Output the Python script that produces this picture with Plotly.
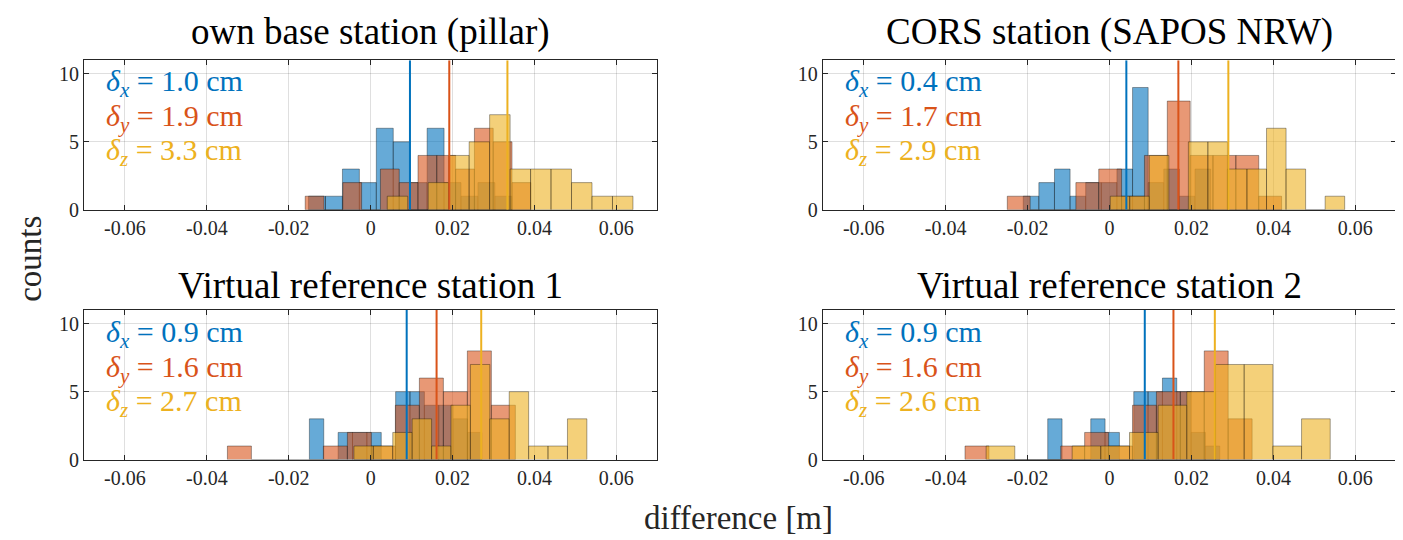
import plotly.graph_objects as go

# ---------------- data ----------------
titles = ["own base station (pillar)", "CORS station (SAPOS NRW)",
          "Virtual reference station 1", "Virtual reference station 2"]

# histogram bins per panel: first bin edge [m], bin width [m], counts
x_start = [-0.01516, -0.02107, -0.01496, -0.01509]
x_width = [0.004136, 0.003812, 0.00351, 0.0035]
x_counts = [[1, 1, 3, 2, 6, 5, 2, 6, 2, 1, 2, 1],
            [1, 2, 3, 1, 2, 2, 3, 9, 2, 3, 1, 3],
            [3, 0, 2, 2, 2, 0, 5, 5, 4, 4, 3, 2],
            [3, 0, 0, 3, 2, 0, 5, 5, 6, 5, 2, 1]]

y_start = [-0.01598, -0.02496, -0.03498, -0.03528]
y_width = [0.004591, 0.00558, 0.00586, 0.00584]
y_counts = [[1, 0, 2, 0, 3, 2, 4, 4, 3, 6, 5, 2],
            [1, 0, 0, 2, 3, 1, 4, 8, 4, 4, 4, 1],
            [1, 0, 0, 0, 1, 2, 1, 4, 6, 5, 8, 4],
            [1, 0, 0, 0, 1, 2, 1, 4, 5, 5, 8, 3]]

z_start = [0.004055, 0.00017, -0.00408, -0.03013]
z_width = [0.005, 0.004769, 0.00474, 0.0070]
z_counts = [[1, 0, 2, 4, 5, 7, 3, 3, 3, 2, 1, 1],
            [1, 1, 4, 0, 5, 5, 3, 3, 6, 3, 0, 1],
            [1, 1, 2, 3, 1, 4, 7, 3, 5, 1, 1, 3],
            [1, 0, 0, 1, 1, 2, 4, 5, 7, 7, 1, 3]]

# mean offsets [cm]
delta_x = [0.96, 0.41, 0.88, 0.86]
delta_y = [1.92, 1.68, 1.61, 1.56]
delta_z = [3.34, 2.90, 2.70, 2.57]

x_tickvals = [-0.06, -0.04, -0.02, 0, 0.02, 0.04, 0.06]
x_ticktext = ["-0.06", "-0.04", "-0.02", "0", "0.02", "0.04", "0.06"]
y_tickvals = [0, 5, 10]

# ---------------- styling ----------------
PAGE_W, PAGE_H = 1403, 540
OFF_X = 8  # horizontal page offset of the figure
W, H = PAGE_W - OFF_X, PAGE_H
FONT = "Liberation Serif"
AXC = "#262626"
COLORS = ["#0072BD", "#D95319", "#EDB120"]
FILLS = ["rgba(0,114,189,0.6)", "rgba(217,83,25,0.6)", "rgba(237,177,32,0.6)"]
EDGE = "rgba(0,0,0,0.35)"


def px(x):
    return min(1.0, max(0.0, (x - OFF_X) / W))


def py(y):
    return min(1.0, max(0.0, 1 - y / H))


x_domains = [[px(84), px(657.3)], [px(822.8), px(1396.3)]] * 2
y_domains = [[py(206), py(53.4)]] * 2 + [[py(461), py(308.4)]] * 2

fig = go.Figure()
series = [(x_start, x_width, x_counts), (y_start, y_width, y_counts),
          (z_start, z_width, z_counts)]
deltas = [delta_x, delta_y, delta_z]
subs = ["x", "y", "z"]

for p in range(4):
    xa = "x" if p == 0 else f"x{p + 1}"
    ya = "y" if p == 0 else f"y{p + 1}"
    for s, (st, wd, ct) in enumerate(series):
        counts = ct[p]
        centers = [st[p] + wd[p] * (k + 0.5) for k in range(len(counts))]
        fig.add_trace(go.Bar(
            x=centers, y=counts, width=[wd[p]] * len(counts),
            marker=dict(color=FILLS[s], line=dict(color=EDGE, width=1)),
            xaxis=xa, yaxis=ya, showlegend=False, hoverinfo="skip"))
    for s in range(3):
        d = deltas[s][p] / 100.0
        fig.add_trace(go.Scatter(
            x=[d, d], y=[0, 11], mode="lines",
            line=dict(color=COLORS[s], width=2),
            xaxis=xa, yaxis=ya, showlegend=False, hoverinfo="skip"))

layout = dict(
    width=W, height=H, margin=dict(l=0, r=0, t=0, b=0),
    paper_bgcolor="white", plot_bgcolor="white",
    barmode="overlay", font=dict(family=FONT, color=AXC, size=20),
)
for p in range(4):
    suffix = "" if p == 0 else str(p + 1)
    common = dict(showline=True, linecolor=AXC, linewidth=1, mirror="ticks",
                  ticks="inside", ticklen=5, tickcolor=AXC, tickwidth=1,
                  showgrid=True, gridcolor="rgba(38,38,38,0.15)", gridwidth=1,
                  zeroline=False, tickfont=dict(family=FONT, size=20, color=AXC))
    layout["xaxis" + suffix] = dict(
        domain=x_domains[p], range=[-0.07, 0.07], anchor="y" + suffix,
        tickvals=x_tickvals, ticktext=x_ticktext, **common)
    layout["yaxis" + suffix] = dict(
        domain=y_domains[p], range=[0, 11], anchor="x" + suffix,
        tickvals=y_tickvals, **common)
fig.update_layout(**layout)

annotations = []
title_x = [370.3, 1109.3, 370.3, 1109.3]
title_y = [25, 25, 283, 283]
for p in range(4):
    annotations.append(dict(
        text=titles[p], x=px(title_x[p]), y=py(title_y[p]), xref="paper",
        yref="paper", xanchor="center", yanchor="middle", showarrow=False,
        font=dict(family=FONT, size=37, color="black")))
    x0 = 104 if p % 2 == 0 else 843
    y0 = 77 if p < 2 else 333
    for s in range(3):
        annotations.append(dict(
            text=f"<i>δ</i><sub><i>{subs[s]}</i></sub> = {deltas[s][p]:.1f} cm",
            x=px(x0), y=py(y0 + 35 * s), xref="paper", yref="paper",
            xanchor="left", yanchor="middle", showarrow=False,
            font=dict(family=FONT, size=30, color=COLORS[s])))
annotations.append(dict(
    text="counts", x=px(30), y=py(256), xref="paper", yref="paper",
    xanchor="center", yanchor="middle", textangle=-90, showarrow=False,
    font=dict(family=FONT, size=33, color=AXC)))
annotations.append(dict(
    text="difference [m]", x=px(738), y=py(521), xref="paper", yref="paper",
    xanchor="center", yanchor="middle", showarrow=False,
    font=dict(family=FONT, size=33, color=AXC)))
fig.update_layout(annotations=annotations)

fig.write_html("out.html")
